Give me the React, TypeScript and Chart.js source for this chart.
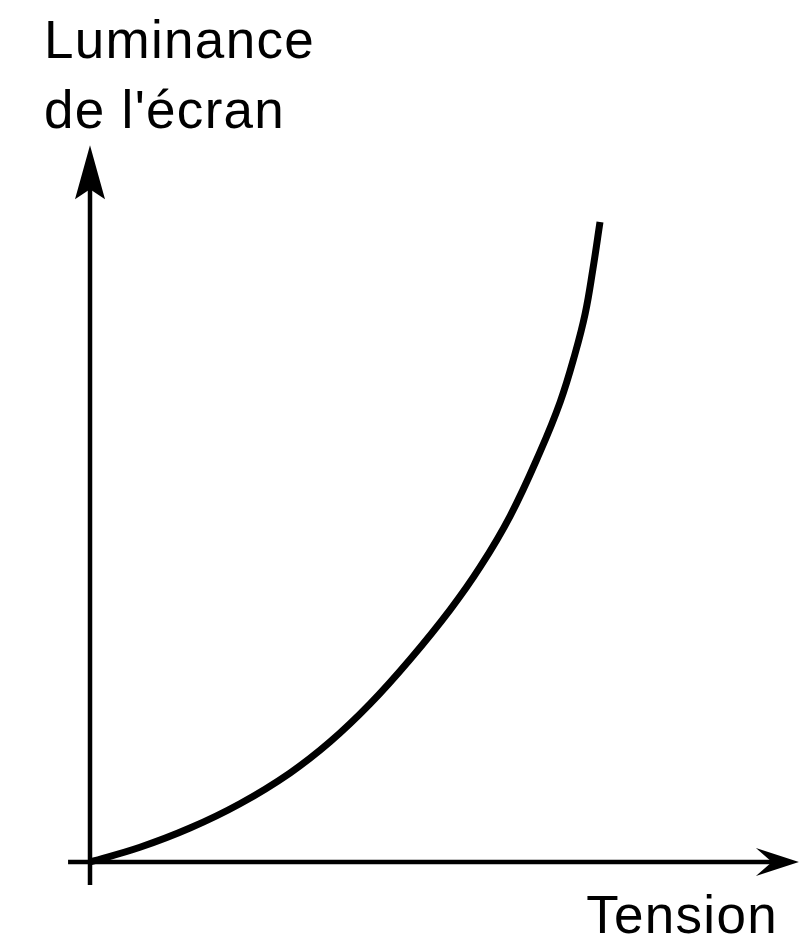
import React, { useEffect, useRef } from "react";
import { Chart, registerables } from "chart.js";

Chart.register(...registerables);

// Tension (x) and screen luminance (y), arbitrary units
const tension = [0, 0.98, 1.96, 2.94, 3.92, 4.71, 5.49, 6.27, 7.06, 7.65, 8.24, 8.82, 9.22, 9.51, 9.71, 9.86, 10];
const luminance = [0, 0.23, 0.53, 0.91, 1.39, 1.88, 2.47, 3.16, 3.94, 4.61, 5.41, 6.4, 7.19, 7.94, 8.57, 9.26, 10];

const yLabelLines = ["Luminance", "de l'écran"];
const xLabel = "Tension";

const FONT = '"Liberation Sans", Arial, Helvetica, sans-serif';

const axesPlugin = {
  id: "arrowAxes",
  beforeDatasetsDraw(chart: any) {
    const { ctx, scales } = chart;
    const xs = scales.x;
    const ys = scales.y;
    const x0 = xs.getPixelForValue(0);
    const y0 = ys.getPixelForValue(0);
    ctx.save();
    ctx.strokeStyle = "#000";
    ctx.fillStyle = "#000";
    ctx.lineWidth = 4.5;
    ctx.lineCap = "butt";
    // x axis
    const xStart = xs.getPixelForValue(-0.43);
    const xTip = xs.getPixelForValue(13.9);
    ctx.beginPath();
    ctx.moveTo(xStart, y0);
    ctx.lineTo(xTip - 20, y0);
    ctx.stroke();
    ctx.beginPath();
    ctx.moveTo(xTip, y0);
    ctx.lineTo(xTip - 43, y0 - 14);
    ctx.lineTo(xTip - 27, y0);
    ctx.lineTo(xTip - 43, y0 + 14);
    ctx.closePath();
    ctx.fill();
    // y axis
    const yStart = ys.getPixelForValue(-0.36);
    const yTip = ys.getPixelForValue(11.2);
    ctx.beginPath();
    ctx.moveTo(x0, yStart);
    ctx.lineTo(x0, yTip + 30);
    ctx.stroke();
    ctx.beginPath();
    ctx.moveTo(x0, yTip);
    ctx.lineTo(x0 - 15, yTip + 54);
    ctx.lineTo(x0, yTip + 44);
    ctx.lineTo(x0 + 15, yTip + 54);
    ctx.closePath();
    ctx.fill();
    ctx.restore();
  },
  afterDraw(chart: any) {
    const { ctx } = chart;
    ctx.save();
    ctx.fillStyle = "#000";
    ctx.font = `53px ${FONT}`;
    try {
      (ctx as any).letterSpacing = "1.3px";
    } catch (e) {}
    ctx.textBaseline = "alphabetic";
    ctx.textAlign = "left";
    ctx.fillText(yLabelLines[0], 44, 58);
    ctx.fillText(yLabelLines[1], 44, 128);
    ctx.textAlign = "right";
    ctx.fillText(xLabel, 778, 933);
    ctx.restore();
  },
};

export default function App() {
  const ref = useRef<HTMLCanvasElement | null>(null);
  useEffect(() => {
    if (!ref.current) return;
    const chart = new Chart(ref.current, {
      type: "line",
      data: {
        datasets: [
          {
            data: tension.map((t, i) => ({ x: t, y: luminance[i] })),
            borderColor: "#000",
            borderWidth: 7,
            pointRadius: 0,
            tension: 0.4,
            fill: false,
            clip: false as any,
            borderCapStyle: "butt",
          },
        ],
      },
      options: {
        animation: false,
        responsive: false,
        maintainAspectRatio: false,
        devicePixelRatio: 1,
        layout: { padding: 0 },
        plugins: { legend: { display: false }, tooltip: { enabled: false } },
        scales: {
          x: { type: "linear", display: false, min: -90 / 51, max: 710 / 51 },
          y: { type: "linear", display: false, min: -80 / 64, max: 862 / 64 },
        },
      },
      plugins: [axesPlugin],
    });
    return () => chart.destroy();
  }, []);
  return (
    <div style={{ position: "fixed", left: 0, top: 0, width: 800, height: 942, background: "#fff" }}>
      <canvas ref={ref} width={800} height={942} style={{ display: "block", width: 800, height: 942 }} />
    </div>
  );
}
